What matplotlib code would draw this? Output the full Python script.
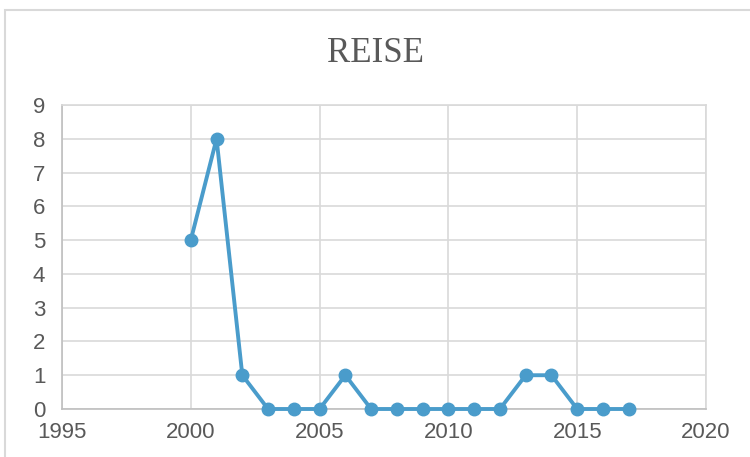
import matplotlib.pyplot as plt
from matplotlib.patches import Rectangle

years = [2000, 2001, 2002, 2003, 2004, 2005, 2006, 2007, 2008, 2009,
         2010, 2011, 2012, 2013, 2014, 2015, 2016, 2017]
values = [5, 8, 1, 0, 0, 0, 1, 0, 0, 0, 0, 0, 0, 1, 1, 0, 0, 0]
x_ticks = [1995, 2000, 2005, 2010, 2015, 2020]
y_ticks = list(range(0, 10))

text_col = '#595959'
grid_col = '#d9d9d9'
line_col = '#4a9ccb'

fig = plt.figure(figsize=(7.5, 4.57), dpi=100)
fig.patches.append(Rectangle((5 / 750, -0.1), 2, 1 - 10 / 457 + 0.1,
                             transform=fig.transFigure, fill=False,
                             edgecolor=grid_col, linewidth=1.5))

ax = fig.add_axes([62 / 750, 1 - 409 / 457, 644 / 750, 304 / 457])
ax.plot(years, values, color=line_col, linewidth=2.8, marker='o',
        markersize=9, zorder=3, clip_on=False)

ax.set_xlim(1995, 2020)
ax.set_ylim(0, 9)
ax.set_xticks(x_ticks)
ax.set_yticks(y_ticks)
ax.grid(True, color=grid_col, linewidth=1.2)
ax.set_axisbelow(True)
for s in ax.spines.values():
    s.set_color(grid_col)
    s.set_linewidth(1.2)
ax.spines['left'].set_color('#bfbfbf')
ax.spines['bottom'].set_color('#bfbfbf')
ax.tick_params(length=0, labelsize=16, labelcolor=text_col, pad=9)
ax.tick_params(axis='y', pad=12)
for lab in ax.get_xticklabels() + ax.get_yticklabels():
    lab.set_family('Liberation Sans')

fig.text(0.5, 1 - 53.5 / 457, 'REISE', ha='center', va='center',
         fontsize=25, color=text_col, family='Liberation Serif')

fig.savefig('out.png', dpi=100)
